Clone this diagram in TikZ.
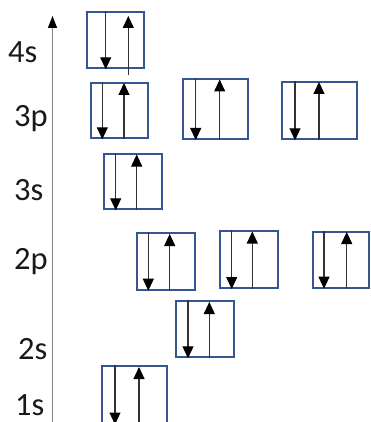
\documentclass[tikz,border=0pt]{standalone}
\usepackage{fontspec}
\setmainfont{Carlito}
\usetikzlibrary{arrows.meta,fit}

\definecolor{boxblue}{RGB}{52,86,146}
\definecolor{axisgray}{RGB}{128,128,128}

\tikzset{
  orbbox/.style={draw=boxblue, line width=2pt, inner sep=0pt, rectangle},
  spin/.style={line width=1.1pt, draw=black!80,
    -{Triangle[width=11pt,length=12pt,fill=black,color=black]}},
  axisline/.style={line width=1.4pt, draw=axisgray,
    -{Triangle[width=9pt,length=12pt,fill=black,color=black]}},
  level/.style={font=\fontsize{32.5}{36}\selectfont, anchor=base west, inner sep=0pt, text=black!90}
}

% #1 name, #2 left, #3 top, #4 right, #5 bottom,
% #6 x of the down spin, #7 x of the up spin, #8 start of up spin, #9 tip of up spin
\newcommand\orbital[9]{%
  \node[orbbox, fit={(#2,#3) (#4,#5)}] (#1) {};
  \draw[spin] ([xshift={(#6-#2)*1pt}]#1.north west) -- ([xshift={(#6-#2)*1pt}]#1.south west);
  \draw[spin] ([xshift={(#7-#2)*1pt},yshift={(#5-#8)*1pt}]#1.south west)
           -- ([xshift={(#7-#2)*1pt},yshift={(#3-#9)*1pt}]#1.north west);
}

\begin{document}
\begin{tikzpicture}[x=1pt,y=-1pt]
  \clip (0,0) rectangle (371,422);

  % energy axis
  \coordinate (axbottom) at (52.5,424);
  \coordinate (axtop) at (52.5,16);
  \draw[axisline] (axbottom) -- (axtop);

  % level labels
  \node[level] (l4s) at (8,62.7) {4s};
  \node[level] (l3p) at (14,126.7) {3p};
  \node[level] (l3s) at (14,200.7) {3s};
  \node[level] (l2p) at (14,269) {2p};
  \node[level] (l2s) at (18,359.3) {2s};
  \node[level] (l1s) at (15,415) {1s};

  % orbitals, each filled with a spin pair
  \orbital{o4s}{87}{12.3}{144.3}{68.3}{106.7}{129.3}{74}{17}
  \orbital{o3pa}{90.7}{83.3}{148.3}{138.3}{103.3}{125}{138.3}{84}
  \orbital{o3pb}{182.7}{79.3}{247.7}{139}{196.7}{220.7}{139}{80.5}
  \orbital{o3pc}{281.7}{81.7}{356.7}{139.3}{296}{320}{139.3}{83}
  \orbital{o3s}{104}{154.3}{161.7}{209.3}{116.7}{137.7}{209.3}{155.5}
  \orbital{o2pa}{136.7}{233.3}{195}{289.7}{149.3}{170.7}{289.7}{235}
  \orbital{o2pb}{220}{231.3}{277.7}{288}{232.7}{253.3}{288}{232.5}
  \orbital{o2pc}{313.3}{231.7}{369}{287.7}{325}{347.7}{287.7}{233}
  \orbital{o2s}{175.7}{301.3}{234.3}{357.3}{189}{210.3}{357.3}{303}
  \orbital{o1s}{101.5}{365.7}{166.8}{423.5}{116}{140}{423.5}{368}
\end{tikzpicture}
\end{document}
